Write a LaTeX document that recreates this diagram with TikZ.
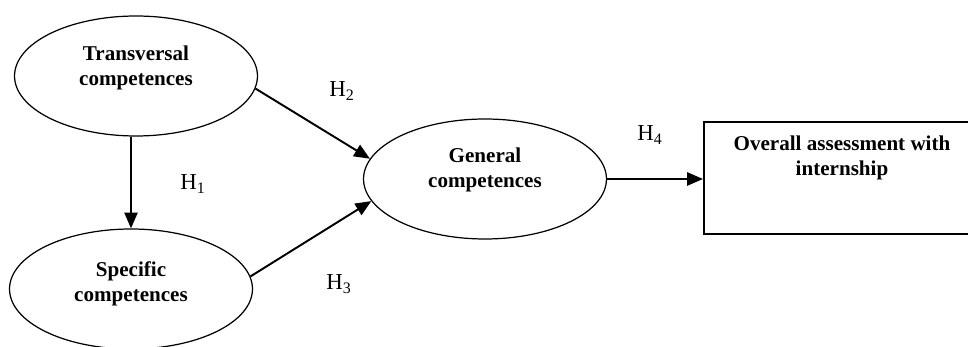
\documentclass[tikz,border=0pt]{standalone}
\usepackage{fontspec}
\setmainfont{Liberation Serif}
\usetikzlibrary{shapes.geometric, arrows.meta, positioning}

\begin{document}
\begin{tikzpicture}[
    x=0.02cm, y=-0.02cm,
    >={Triangle[length=9pt,width=7.5pt]},
    line width=1.1pt,
    every node/.style={font=\fontsize{12}{14.4}\selectfont},  % base font size
    construct/.style={ellipse, draw, line width=0.7pt, minimum width=4.86cm, minimum height=2.4cm, inner sep=0pt},
    outcome/.style={rectangle, draw, line width=0.9pt, minimum width=5.56cm, minimum height=2.24cm, inner sep=0pt},
    caption/.style={align=center, font=\fontsize{12}{14.4}\selectfont\bfseries},
    hyp/.style={font=\fontsize{13}{15}\selectfont}
]

% Fix the page size
\useasboundingbox (0,0) rectangle (968,347);

% Constructs
\node[construct] (trans) at (136,76) {};
\node[construct] (spec) at (131,289) {};
\node[construct] (gen) at (485,179) {};
\node[outcome, anchor=north west] (overall) at (703,121) {};

% Texts inside the shapes
\node[caption] (trans-txt) at (136,68) {Transversal\\competences};
\node[caption] (spec-txt) at (131,284) {Specific\\competences};
\node[caption] (gen-txt) at (485,170) {General\\competences};
\node[caption] (overall-txt) at (842,158) {Overall assessment with\\internship};

% Paths
\draw[->] (trans.south -| spec.north) -- (spec.north);
\draw[->] (trans.-6) -- (gen.170);
\draw[->] (spec.6) -- (gen.-169);
\draw[->] (gen.east) -- (gen.east -| overall.west);

% Hypotheses
\node[hyp] (h1) at (193,184) {H\textsubscript{1}};
\node[hyp] (h2) at (342,91) {H\textsubscript{2}};
\node[hyp] (h3) at (339,284) {H\textsubscript{3}};
\node[hyp] (h4) at (650,135) {H\textsubscript{4}};

\end{tikzpicture}
\end{document}
